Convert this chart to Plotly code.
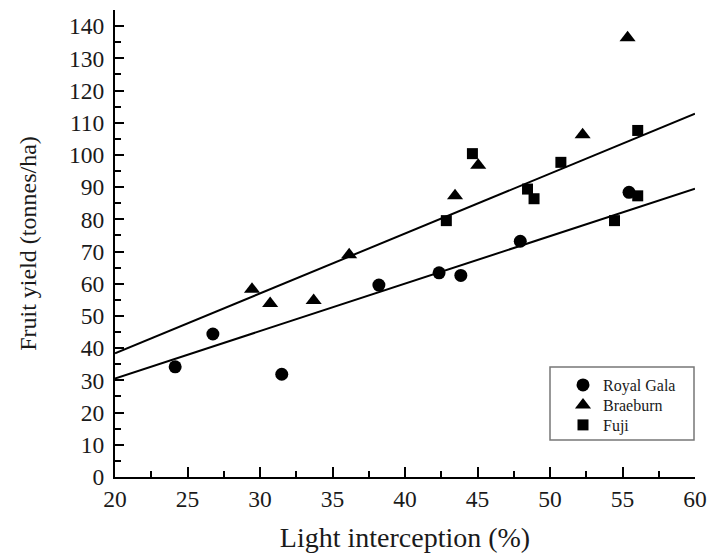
import plotly.graph_objects as go

# Royal Gala (circles)
gala_x = [24.15, 26.75, 31.5, 38.2, 42.35, 43.85, 47.95, 55.45]
gala_y = [34.2, 44.4, 31.9, 59.6, 63.4, 62.6, 73.2, 88.4]

# Braeburn (triangles)
braeburn_x = [29.45, 30.7, 33.7, 36.15, 43.45, 45.05, 52.25, 55.35]
braeburn_y = [58.3, 53.9, 54.8, 69.0, 87.3, 96.8, 106.3, 136.4]

# Fuji (squares)
fuji_x = [42.85, 44.65, 48.45, 48.9, 50.75, 54.45, 56.05, 56.05]
fuji_y = [79.6, 100.4, 89.4, 86.4, 97.7, 79.6, 107.6, 87.3]

# Fitted lines
fit_x = [20, 60]
fit_upper = [38.4, 112.8]
fit_lower = [30.6, 89.5]

FONT = "Liberation Serif"
TXT = "#1a1a1a"

fig = go.Figure()
fig.add_trace(go.Scatter(x=fit_x, y=fit_upper, mode="lines",
                         line=dict(color="black", width=2), showlegend=False, hoverinfo="skip"))
fig.add_trace(go.Scatter(x=fit_x, y=fit_lower, mode="lines",
                         line=dict(color="black", width=2), showlegend=False, hoverinfo="skip"))
fig.add_trace(go.Scatter(x=gala_x, y=gala_y, mode="markers", name="Royal Gala", legend="legend",
                         marker=dict(symbol="circle", size=13, color="black")))
fig.add_trace(go.Scatter(x=braeburn_x, y=braeburn_y, mode="markers", name="Braeburn", legend="legend2",
                         marker=dict(symbol="triangle-up", size=14, color="black")))
fig.add_trace(go.Scatter(x=fuji_x, y=fuji_y, mode="markers", name="Fuji", legend="legend3",
                         marker=dict(symbol="square", size=11, color="black")))

axis_common = dict(
    showgrid=False, zeroline=False, showline=True, linecolor="black", linewidth=2,
    ticks="inside", tickcolor="black", tickwidth=2, automargin=False,
    tickfont=dict(family=FONT, size=23.5, color=TXT),
    mirror=False,
)

fig.update_xaxes(
    range=[20, 60], dtick=5, tick0=20, ticklen=10,
    minor=dict(ticks="inside", dtick=2.5, ticklen=6, tickwidth=2, tickcolor="black"),
    title=dict(text="Light interception (%)", font=dict(family=FONT, size=28, color=TXT), standoff=16),
    **axis_common,
)
fig.update_yaxes(
    range=[0, 145], dtick=10, tick0=0, ticklen=9, ticklabelstandoff=4,
    minor=dict(ticks="inside", dtick=5, ticklen=6, tickwidth=2, tickcolor="black"),
    title=dict(text="Fruit yield (tonnes/ha)", font=dict(family=FONT, size=24, color=TXT), standoff=26),
    **axis_common,
)

# legend frame (pixel box 550..694 x 367..440 -> paper coords)
fig.add_shape(type="rect", xref="paper", yref="paper",
              x0=(550 - 115) / 580, x1=(694 - 115) / 580,
              y0=(477 - 440) / 467, y1=(477 - 367) / 467,
              line=dict(color="#777", width=1.5), fillcolor="rgba(0,0,0,0)", layer="above")

def legend_at(row_px):
    return dict(x=(563 - 115) / 580, y=(477 - row_px) / 467, xanchor="left", yanchor="middle",
                borderwidth=0, bgcolor="rgba(0,0,0,0)",
                font=dict(family=FONT, size=16, color=TXT), itemwidth=30)

fig.update_layout(
    width=708, height=556,
    margin=dict(l=115, r=13, t=10, b=79, autoexpand=False),
    plot_bgcolor="white", paper_bgcolor="white",
    font=dict(family=FONT, color=TXT),
    legend=legend_at(385),
    legend2=legend_at(405),
    legend3=legend_at(425),
    showlegend=True,
)

fig.write_html("out.html", config={"displayModeBar": False},
               post_script="document.body.style.margin='0px';")
